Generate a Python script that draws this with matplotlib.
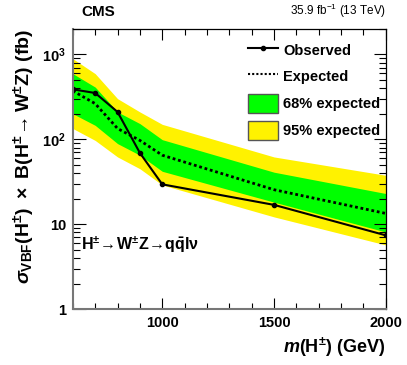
import matplotlib
matplotlib.use('Agg')
import matplotlib.pyplot as plt
from matplotlib.ticker import FixedLocator, NullFormatter, LogLocator, FixedFormatter
from matplotlib.lines import Line2D
from matplotlib.patches import Patch

plt.rcParams['font.family'] = ['Liberation Sans', 'DejaVu Sans']
plt.rcParams['mathtext.fontset'] = 'custom'
plt.rcParams['mathtext.rm'] = 'Liberation Sans:bold'
plt.rcParams['mathtext.bf'] = 'Liberation Sans:bold'
plt.rcParams['mathtext.it'] = 'Liberation Sans:bold:italic'
plt.rcParams['mathtext.sf'] = 'Liberation Sans'

# m(H+) in GeV
mass = [600, 700, 800, 900, 1000, 1500, 2000]
observed = [388, 351, 210, 69, 29.5, 16.9, 7.4]
expected = [372, 263, 134, 97, 65, 25.5, 13.4]
exp_68_up = [593, 412, 210, 153, 99, 41, 23]
exp_68_dn = [200, 146, 89, 65, 42, 18.2, 8.1]
exp_95_up = [890, 593, 301, 210, 150, 62, 37.7]
exp_95_dn = [134, 97, 62, 45, 29, 12.2, 5.7]

x_ticks = [1000, 1500, 2000]

fig = plt.figure(figsize=(4.07, 3.65), dpi=100)
ax = fig.add_axes([0.179, 0.153, 0.769, 0.768])

ax.fill_between(mass, exp_95_dn, exp_95_up, color='#fff200', lw=0)
ax.fill_between(mass, exp_68_dn, exp_68_up, color='#00ff00', lw=0)
ax.plot(mass, expected, color='black', ls=(0, (1.0, 1.0)), lw=2)
ax.plot(mass, observed, color='black', lw=1.5, marker='o', ms=3)

ax.set_yscale('log')
ax.set_xlim(600, 2000)
ax.set_ylim(1, 2000)

ax.xaxis.set_major_locator(FixedLocator(x_ticks))
ax.xaxis.set_minor_locator(FixedLocator(range(600, 2000, 100)))
ax.set_xticklabels([str(t) for t in x_ticks])
ax.yaxis.set_major_locator(FixedLocator([1, 10, 100, 1000]))
ax.yaxis.set_major_formatter(FixedFormatter(['1', '10', r'$10^{2}$', r'$10^{3}$']))
ax.yaxis.set_minor_locator(LogLocator(base=10, subs=range(2, 10)))
ax.yaxis.set_minor_formatter(NullFormatter())

ax.tick_params(which='both', direction='in', top=True, right=True,
               labelsize=10.5, pad=5)
ax.tick_params(which='major', length=9, width=0.8)
ax.tick_params(which='minor', length=5, width=0.8)
ax.tick_params(axis='x', which='major', length=8)
ax.tick_params(axis='x', which='minor', length=4)
for lab in ax.get_xticklabels() + ax.get_yticklabels():
    lab.set_fontweight('bold')

for s in ['left', 'bottom']:
    ax.spines[s].set_color('#777777')
    ax.spines[s].set_linewidth(1.5)
for s in ['top', 'right']:
    ax.spines[s].set_linewidth(0.9)

ax.set_ylabel(r'$\sigma_{\mathrm{VBF}}(\mathrm{H}^{\pm})\ \times\ \mathrm{B}(\mathrm{H}^{\pm}\!\rightarrow \mathrm{W}^{\pm}\mathrm{Z})\ \mathrm{(fb)}$',
              fontsize=14, fontweight='bold', loc='top', labelpad=4)
ax.set_xlabel(r'$m$(H$^{\pm}$) (GeV)', fontsize=13, fontweight='bold',
              loc='right', labelpad=4)

fig.text(0.2, 0.948, 'CMS', fontsize=11, fontweight='bold', ha='left', va='bottom')
fig.text(0.948, 0.945, r'35.9 fb$^{\mathsf{-1}}$ (13 TeV)', fontsize=8.5,
         ha='right', va='bottom')

ax.text(0.025, 0.21, r'$\mathrm{H^{\pm}\!\rightarrow\! W^{\pm}Z\!\rightarrow\! q\bar{q}l\nu}$',
        transform=ax.transAxes, fontsize=11.5, fontweight='bold')

handles = [
    Line2D([], [], color='black', lw=1.5, marker='o', ms=3),
    Line2D([], [], color='black', ls=(0, (1, 1)), lw=1.5),
    Patch(facecolor='#00ff00', edgecolor='#555555'),
    Patch(facecolor='#fff200', edgecolor='#555555'),
]
labels = ['Observed', 'Expected', '68% expected', '95% expected']
leg = ax.legend(handles, labels, loc='upper right', frameon=False,
                prop={'weight': 'bold', 'size': 10.5},
                handlelength=2.0, handleheight=1.6, labelspacing=0.55,
                handletextpad=0.4, bbox_to_anchor=(1.025, 1.005))

fig.savefig('out.png', dpi=100)
